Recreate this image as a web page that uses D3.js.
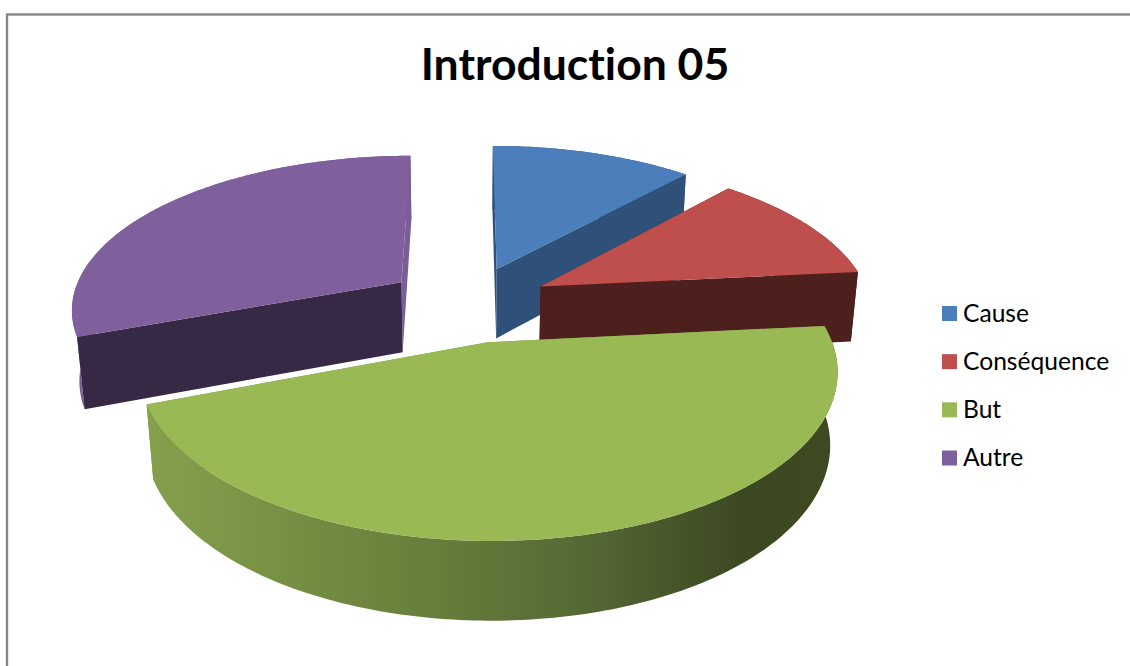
<!DOCTYPE html>
<html><head><meta charset="utf-8">
<script src="https://cdn.jsdelivr.net/npm/d3@7/dist/d3.min.js"></script>
<style>html,body{margin:0;padding:0;background:#fff;overflow:hidden}svg{display:block}text{font-family:Lato,"Open Sans",sans-serif;fill:#000;font-variant-ligatures:none}</style>
</head><body><div id="chart"></div>
<script>
const chartTitle = "Introduction 05";
const categories = ["Cause", "Conséquence", "But", "Autre"];
const values = [11.7, 11.7, 45.85, 30.75];
const topColors = ["#4c7ebb", "#be4f4c", "#98b954", "#7f609d"];
const wallColors = ["#2f5079", "#4d201e", "#7f9c48", "#372845"];
const sideColors = ["#2f5079", "#4d201e", "#7f9c48", "#7a5e98"];
const rimStops = [[0, "#84a04c"], [0.34, "#6c843e"], [0.62, "#566a35"], [0.86, "#3c4822"], [1, "#3e4a21"]];

const W = 1130, H = 666;
const svg = d3.select("#chart").append("svg").attr("width", W).attr("height", H);
svg.append("rect").attr("x", 7).attr("y", 14.5).attr("width", W + 20).attr("height", H + 20)
  .attr("fill", "#fff").attr("stroke", "#868686").attr("stroke-width", 2.4);

// perspective projection of the pie's plane
const sx = d3.scaleLinear().domain([-1, 1]).range([137, 799]);
const sy = d3.scaleLinear().domain([-1, 1]).range([150.5, 456.5]);
const depth = d3.scaleLinear().domain([0, 1]).range([0, 72]);
const persp = 0.16, shrink = 0.019, explode = 0.25;
function project(X, Y, Z) {
  const w = 1 / (1 - persp * Y + shrink * Z);
  return [sx(0) + (sx(X) - sx(0)) * w, sy(0) + (sy(Y) - sy(0)) * w + depth(Z) * Math.pow(w, 0.85)];
}
const path = d3.line();
const arcs = d3.pie().sort(null).value(d => d)(values);

const defs = svg.append("defs");
const grad = defs.append("linearGradient").attr("id", "rim")
  .attr("gradientUnits", "userSpaceOnUse").attr("x1", 150).attr("x2", 838).attr("y1", 0).attr("y2", 0);
grad.selectAll("stop").data(rimStops).join("stop")
  .attr("offset", d => d[0]).attr("stop-color", d => d[1]);

// painter's order: far slices first
const order = [0, 1, 3, 2];
order.forEach(i => {
  const a = arcs[i];
  const mid = (a.startAngle + a.endAngle) / 2;
  const ox = Math.sin(mid) * explode, oy = -Math.cos(mid) * explode;
  const n = Math.max(12, Math.round((a.endAngle - a.startAngle) * 60));
  const ang = d3.range(n + 1).map(k => a.startAngle + (a.endAngle - a.startAngle) * k / n);
  const rim = z => ang.map(t => project(ox + Math.sin(t), oy - Math.cos(t), z));
  const apex = z => project(ox, oy, z);
  const g = svg.append("g");
  const top = rim(0), bot = rim(1);
  // radial faces: the start face and the end face
  const face = (p0, p1) => [apex(0), p0, p1, apex(1)];
  const startFace = face(top[0], bot[0]);
  const endFace = face(top[n], bot[n]);
  const faces = [
    { pts: startFace, y: -Math.cos(a.startAngle), fill: i === 3 ? wallColors[i] : sideColors[i] },
    { pts: endFace, y: -Math.cos(a.endAngle), fill: i === 3 ? sideColors[i] : wallColors[i] }
  ].sort((p, q) => p.y - q.y);
  // outer wall first for the slices whose radial face looks at the viewer
  const wall = () => g.append("path").attr("d", path(top.concat(bot.slice().reverse())) + "Z")
    .attr("fill", i === 2 ? "url(#rim)" : sideColors[i]);
  if (i === 3) wall();
  faces.forEach(f => g.append("path").attr("d", path(f.pts) + "Z").attr("fill", f.fill));
  if (i !== 3) wall();
  // top face
  g.append("path").attr("d", path([apex(0)].concat(top)) + "Z").attr("fill", topColors[i]);
});

svg.append("text").attr("x", 575).attr("y", 80).attr("text-anchor", "middle")
  .attr("font-size", 44.5).attr("font-weight", 700).text(chartTitle);

const legendY = d3.scalePoint().domain(categories).range([313.5, 458]);
const legend = svg.append("g").selectAll("g").data(categories).join("g")
  .attr("transform", d => `translate(0,${legendY(d)})`);
legend.append("rect").attr("x", 942).attr("y", -7.5).attr("width", 15).attr("height", 15)
  .attr("fill", (d, i) => topColors[i]);
legend.append("text").attr("x", 963).attr("y", 8).attr("font-size", 24.6).text(d => d);
</script></body></html>
